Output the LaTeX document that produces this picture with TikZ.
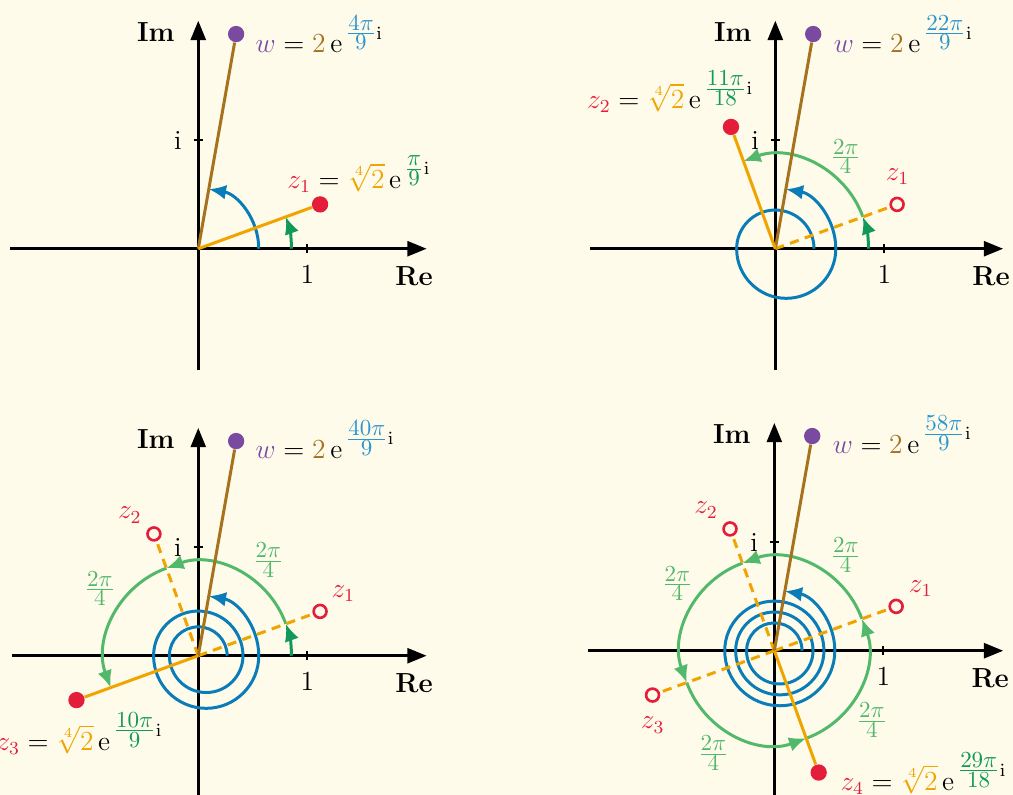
\documentclass[tikz,border=0pt]{standalone}
\usepackage{amsmath}
\usetikzlibrary{arrows.meta}
\DeclareMathSizes{12}{12}{8}{6}
\definecolor{bg}{HTML}{FEFBEB}
\definecolor{zred}{HTML}{E41E3A}
\definecolor{zorange}{HTML}{F0A400}
\definecolor{wpurple}{HTML}{7A4AA0}
\definecolor{wbrown}{HTML}{A6721E}
\definecolor{sblue}{HTML}{0A7DB8}
\definecolor{fblue}{HTML}{2B95CF}
\definecolor{dgreen}{HTML}{10995A}
\definecolor{lgreen}{HTML}{52B86A}
\tikzset{
 axis/.style={line width=1.2pt, -{Triangle[length=8.4pt,width=6.5pt]}},
 tickmark/.style={line width=1pt},
 wline/.style={wbrown, line width=1.3pt},
 zline/.style={zorange, line width=1.3pt},
 zdash/.style={zorange, line width=1.3pt, dash pattern=on 4pt off 2.8pt},
 spiral/.style={sblue, line width=1.3pt, -{Latex[length=7.5pt,width=6.4pt]}},
 garc/.style={lgreen, line width=1.3pt, -{Latex[length=7.5pt,width=6.4pt]}},
 darc/.style={dgreen, line width=1.3pt, -{Latex[length=7.5pt,width=6.4pt]}},
 fulldot/.style={circle, inner sep=0pt, minimum size=7.1pt},
 opendot/.style={circle, draw=zred, fill=bg, line width=1.15pt, inner sep=0pt, minimum size=5.6pt},
 lbl/.style={inner sep=0pt, font=\fontsize{12}{14}\selectfont},
 glbl/.style={lbl, text=lgreen},
 rlbl/.style={lbl, text=zred},
}
\newcommand{\bfrac}[2]{\mbox{\fontsize{10}{12}\selectfont$\genfrac{}{}{}{1}{\textstyle #1}{\textstyle #2}$}}
\newcommand{\wlab}[1]{$\textcolor{wpurple}{w} = \textcolor{wbrown}{2}\,\mathrm{e}^{\,\textcolor{fblue}{\bfrac{#1}{9}}\mathrm{i}}$}
\newcommand{\zlab}[3]{$\textcolor{zred}{z_{#1}} = \textcolor{zorange}{\sqrt[4]{2}}\,\mathrm{e}^{\,\textcolor{dgreen}{\bfrac{#2}{#3}}\mathrm{i}}$}
\newcommand{\qfrac}{\bfrac{2\pi}{4}}
\begin{document}
\begin{tikzpicture}[x=47.4pt,y=47.4pt]
\useasboundingbox (0,0) rectangle (9.2936,-7.2936);
\fill[bg] (0,0) rectangle (9.2936,-7.2936);

% ---------------- panel 1
\begin{scope}[shift={(1.819,-2.282)}]
 \coordinate (a1o) at (0,0);
 \draw[axis] (-1.727,0) -- (2.095,0);
 \draw[axis] (0,-1.113) -- (0,2.092);
 \draw[tickmark] (1,-0.04) -- (1,0.04);
 \draw[tickmark] (-0.04,1) -- (0.04,1);
 \node[lbl, anchor=base] (a1re) at (1.98,-0.333) {\textbf{Re}};
 \node[lbl, anchor=base] (a1im) at (-0.39,1.899) {\textbf{Im}};
 \node[lbl, anchor=base] (a1one) at (1,-0.317) {1};
 \node[lbl, anchor=base] (a1i) at (-0.186,0.906) {i};
 \draw[spiral] (0.555,0) arc[start angle=0,end angle=80,radius=0.555];
 \draw[darc] (0.855,0) arc[start angle=0,end angle=20,radius=0.855];
 \node[fulldot, fill=wpurple] (a1w) at (80:2) {};
 \node[fulldot, fill=zred] (a1z1) at (20:1.1892) {};
 \draw[wline] (a1o) -- (a1w);
 \draw[zline] (a1o) -- (a1z1);
 \node[lbl, anchor=base west] (a1wl) at (0.523,1.798) {\wlab{4\pi}};
 \node[lbl, anchor=base west] (a1zl) at (0.814,0.554) {\zlab{1}{\pi}{9}};
\end{scope}

% ---------------- panel 2
\begin{scope}[shift={(7.113,-2.282)}]
 \coordinate (a2o) at (0,0);
 \draw[axis] (-1.70,0) -- (2.09,0);
 \draw[axis] (0,-1.113) -- (0,2.092);
 \draw[tickmark] (1,-0.04) -- (1,0.04);
 \draw[tickmark] (-0.04,1) -- (0.04,1);
 \node[lbl, anchor=base] (a2re) at (1.98,-0.333) {\textbf{Re}};
 \node[lbl, anchor=base] (a2im) at (-0.39,1.899) {\textbf{Im}};
 \node[lbl, anchor=base] (a2one) at (1,-0.317) {1};
 \node[lbl, anchor=base] (a2i) at (-0.186,0.906) {i};
 \draw[spiral] (0.355,0) arc[start angle=0,end angle=180,radius=0.355]
   arc[start angle=180,end angle=360,radius=0.455]
   arc[start angle=0,end angle=80,radius=0.555];
 \draw[darc] (0.855,0) arc[start angle=0,end angle=20,radius=0.855];
 \draw[garc] (20:0.855) arc[start angle=20,end angle=110,radius=0.855];
 \node[opendot] (a2z1) at (20:1.1892) {};
 \node[fulldot, fill=wpurple] (a2w) at (80:2) {};
 \node[fulldot, fill=zred] (a2z2) at (110:1.1892) {};
 \draw[zdash] (a2o) -- (a2z1);
 \draw[wline] (a2o) -- (a2w);
 \draw[zline] (a2o) -- (a2z2);
 \node[rlbl] (a2z1l) at (1.121,0.661) {$z_1$};
 \node[glbl] (a2q1) at (0.646,0.844) {\qfrac};
 \node[lbl, anchor=base west] (a2wl) at (0.532,1.798) {\wlab{22\pi}};
 \node[lbl, anchor=base west] (a2zl) at (-1.730,1.288) {\zlab{2}{11\pi}{18}};
\end{scope}

% ---------------- panel 3
\begin{scope}[shift={(1.819,-6.016)}]
 \coordinate (a3o) at (0,0);
 \draw[axis] (-1.71,0) -- (2.095,0);
 \draw[axis] (0,-1.35) -- (0,2.09);
 \draw[tickmark] (1,-0.04) -- (1,0.04);
 \draw[tickmark] (-0.04,1) -- (0.04,1);
 \node[lbl, anchor=base] (a3re) at (1.98,-0.333) {\textbf{Re}};
 \node[lbl, anchor=base] (a3im) at (-0.39,1.899) {\textbf{Im}};
 \node[lbl, anchor=base] (a3one) at (1,-0.317) {1};
 \node[lbl, anchor=base] (a3i) at (-0.186,0.906) {i};
 \draw[spiral] (0.265,0) arc[start angle=0,end angle=180,radius=0.265]
   arc[start angle=180,end angle=360,radius=0.3375]
   arc[start angle=0,end angle=180,radius=0.41]
   arc[start angle=180,end angle=360,radius=0.4825]
   arc[start angle=0,end angle=80,radius=0.555];
 \draw[darc] (0.855,0) arc[start angle=0,end angle=20,radius=0.855];
 \draw[garc] (20:0.855) arc[start angle=20,end angle=110,radius=0.855];
 \draw[garc] (110:0.855) arc[start angle=110,end angle=200,radius=0.855];
 \node[opendot] (a3z1) at (20:1.1892) {};
 \node[opendot] (a3z2) at (110:1.1892) {};
 \node[fulldot, fill=wpurple] (a3w) at (80:2) {};
 \node[fulldot, fill=zred] (a3z3) at (200:1.1892) {};
 \draw[zdash] (a3o) -- (a3z1);
 \draw[zdash] (a3o) -- (a3z2);
 \draw[wline] (a3o) -- (a3w);
 \draw[zline] (a3o) -- (a3z3);
 \node[rlbl] (a3z1l) at (1.330,0.572) {$z_1$};
 \node[rlbl] (a3z2l) at (-0.627,1.291) {$z_2$};
 \node[glbl] (a3q1) at (0.642,0.878) {\qfrac};
 \node[glbl] (a3q2) at (-0.902,0.617) {\qfrac};
 \node[lbl, anchor=base west] (a3wl) at (0.523,1.811) {\wlab{40\pi}};
 \node[lbl, anchor=base east] (a3zl) at (-0.324,-0.865) {\zlab{3}{10\pi}{9}};
\end{scope}

% ---------------- panel 4
\begin{scope}[shift={(7.104,-5.970)}]
 \coordinate (a4o) at (0,0);
 \draw[axis] (-1.71,0) -- (2.10,0);
 \draw[axis] (0,-1.35) -- (0,2.09);
 \draw[tickmark] (1,-0.04) -- (1,0.04);
 \draw[tickmark] (-0.04,1) -- (0.04,1);
 \node[lbl, anchor=base] (a4re) at (1.98,-0.333) {\textbf{Re}};
 \node[lbl, anchor=base] (a4im) at (-0.39,1.899) {\textbf{Im}};
 \node[lbl, anchor=base] (a4one) at (1,-0.317) {1};
 \node[lbl, anchor=base] (a4i) at (-0.186,0.906) {i};
 \draw[spiral] (0.255,0) arc[start angle=0,end angle=180,radius=0.255]
   arc[start angle=180,end angle=360,radius=0.305]
   arc[start angle=0,end angle=180,radius=0.355]
   arc[start angle=180,end angle=360,radius=0.405]
   arc[start angle=0,end angle=180,radius=0.455]
   arc[start angle=180,end angle=360,radius=0.505]
   arc[start angle=0,end angle=80,radius=0.555];
 \draw[garc] (20:0.855) arc[start angle=20,end angle=110,radius=0.855];
 \draw[garc] (110:0.855) arc[start angle=110,end angle=200,radius=0.855];
 \draw[garc] (200:0.855) arc[start angle=200,end angle=290,radius=0.855];
 \draw[garc] (290:0.855) arc[start angle=290,end angle=380,radius=0.855];
 \node[opendot] (a4z1) at (20:1.1892) {};
 \node[opendot] (a4z2) at (110:1.1892) {};
 \node[opendot] (a4z3) at (200:1.1892) {};
 \node[fulldot, fill=wpurple] (a4w) at (80:2) {};
 \node[fulldot, fill=zred] (a4z4) at (290:1.1892) {};
 \draw[zdash] (a4o) -- (a4z1);
 \draw[zdash] (a4o) -- (a4z2);
 \draw[zdash] (a4o) -- (a4z3);
 \draw[wline] (a4o) -- (a4w);
 \draw[zline] (a4o) -- (a4z4);
 \node[rlbl] (a4z1l) at (1.343,0.572) {$z_1$};
 \node[rlbl] (a4z2l) at (-0.627,1.291) {$z_2$};
 \node[rlbl] (a4z3l) at (-1.116,-0.682) {$z_3$};
 \node[glbl] (a4q1) at (0.655,0.878) {\qfrac};
 \node[glbl] (a4q2) at (-0.890,0.618) {\qfrac};
 \node[glbl] (a4q3) at (-0.560,-0.941) {\qfrac};
 \node[glbl] (a4q4) at (0.894,-0.636) {\qfrac};
 \node[lbl, anchor=base west] (a4wl) at (0.532,1.811) {\wlab{58\pi}};
 \node[lbl, anchor=base west] (a4zl) at (0.603,-1.278) {\zlab{4}{29\pi}{18}};
\end{scope}
\end{tikzpicture}
\end{document}
